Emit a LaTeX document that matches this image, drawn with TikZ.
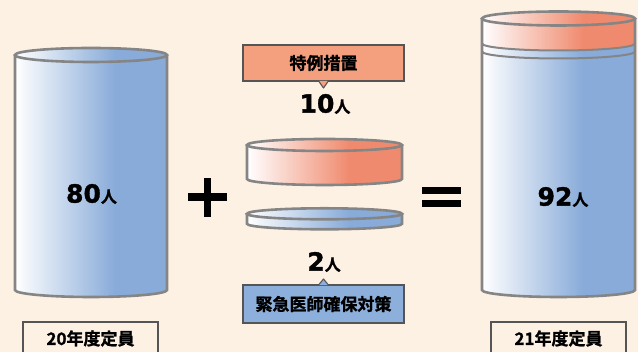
\documentclass[tikz,border=0pt]{standalone}
\usepackage{fontspec}
\usetikzlibrary{calc}
\newfontfamily\cjk{Noto Sans CJK JP Bold}[FakeBold=1.2]
\newfontfamily\numfont{DejaVu Sans Bold}[FakeBold=1.4]

\definecolor{paper}{HTML}{FDF1E4}
\definecolor{cylblue}{HTML}{88ABD9}
\definecolor{cylred}{HTML}{F08A6E}
\definecolor{rimgray}{HTML}{858585}
\definecolor{tagred}{HTML}{F4A07F}
\definecolor{tagblue}{HTML}{8DAFDC}
\definecolor{framegray}{HTML}{555555}

\pgfdeclarehorizontalshading{bluecyl}{100bp}{color(0bp)=(white); color(25bp)=(white); color(58bp)=(cylblue); color(100bp)=(cylblue)}
\pgfdeclarehorizontalshading{redcyl}{100bp}{color(0bp)=(white); color(25bp)=(white); color(58bp)=(cylred); color(100bp)=(cylred)}

% count with a smaller 人
\newcommand{\ninzu}[1]{{\numfont\fontsize{25}{25}\selectfont #1}{\cjk\fontsize{16}{16}\selectfont 人}}

\begin{document}
\begin{tikzpicture}[x=1pt,y=1pt]
\tikzstyle{rim}=[rimgray, line width=2.6pt]
\tikzstyle{tag}=[draw=framegray, line width=1.1pt, minimum width=161pt, inner sep=0pt, font=\cjk\fontsize{17}{17}\selectfont]
\tikzstyle{yearbox}=[draw=framegray, line width=1.1pt, minimum width=135pt, minimum height=33pt, inner sep=0pt, font=\cjk\fontsize{17}{17}\selectfont]
\fill [paper] (0,0) rectangle (638,352);
\useasboundingbox (0,0) rectangle (638,352);
\clip (0,0) rectangle (638,352);
% 20年度 cylinder
\shade [shading=bluecyl] (15,297) -- (15,62) arc (180:360:76pt and 7pt) -- (167,297) arc (0:180:76pt and 7pt) -- cycle;
\draw [rim] (15,297) -- (15,62) arc (180:360:76pt and 7pt) -- (167,297);
\draw [rim] (91,297) ellipse (76pt and 7pt);
\node (cnt20) at (91.5,158) {\ninzu{80}};
\node [yearbox] (nen20) at (90.5,13.5) {20年度定員};
% plus
\fill [black] (188,151.3) rectangle (226.7,158.7);
\fill [black] (204,135.3) rectangle (211,174);
% extra disc (red)
\shade [shading=redcyl] (247,207) -- (247,173) arc (180:360:77.5pt and 6pt) -- (402,207) arc (0:180:77.5pt and 6pt) -- cycle;
\draw [rim] (247,207) -- (247,173) arc (180:360:77.5pt and 6pt) -- (402,207);
\draw [rim] (324.5,207) ellipse (77.5pt and 6pt);
% extra disc (blue)
\shade [shading=bluecyl] (247,138.2) -- (247,128.2) arc (180:360:77.5pt and 5.5pt) -- (402,138.2) arc (0:180:77.5pt and 5.5pt) -- cycle;
\draw [rim] (247,138.2) -- (247,128.2) arc (180:360:77.5pt and 5.5pt) -- (402,138.2);
\draw [rim] (324.5,138.2) ellipse (77.5pt and 5.5pt);
% callouts
\node [tag, fill=tagred, minimum height=36pt] (tokurei) at (323.5,289) {特例措置};
\coordinate (tokureitip) at (323.5,264);
\fill [tagred] ($(tokurei.south)+(-4.5,0.6)$) -- (tokureitip) -- ($(tokurei.south)+(4.5,0.6)$) -- cycle;
\draw [framegray, line width=1.1pt, line join=round] ($(tokurei.south)+(-4.5,0)$) -- (tokureitip) -- ($(tokurei.south)+(4.5,0)$);
\node (cnt10) at (325,248) {\ninzu{10}};
\node [tag, fill=tagblue, minimum height=38pt] (kinkyu) at (323.5,48) {緊急医師確保対策};
\coordinate (kinkyutip) at (323.5,73);
\fill [tagblue] ($(kinkyu.north)+(-4.5,-0.6)$) -- (kinkyutip) -- ($(kinkyu.north)+(4.5,-0.6)$) -- cycle;
\draw [framegray, line width=1.1pt, line join=round] ($(kinkyu.north)+(-4.5,0)$) -- (kinkyutip) -- ($(kinkyu.north)+(4.5,0)$);
\node (cnt2) at (324,90) {\ninzu{2}};
% equals
\fill [black] (422,157.7) rectangle (461,164.7);
\fill [black] (422,144.7) rectangle (461,151.7);
% 21年度 cylinder, red disc sitting in the blue body
\shade [shading=bluecyl] (482,333.5) -- (482,62) arc (180:360:76.5pt and 7pt) -- (635,333.5) arc (0:180:76.5pt and 7pt) -- cycle;
\shade [shading=redcyl] (482,333.5) -- (482,308.5) arc (180:360:76.5pt and 7pt) -- (635,333.5) arc (0:180:76.5pt and 7pt) -- cycle;
\draw [rim] (482,333.5) -- (482,62) arc (180:360:76.5pt and 7pt) -- (635,333.5);
\draw [rim, line width=2pt] (482,300.5) arc (180:360:76.5pt and 7pt);
\draw [rim, line width=2pt] (482,308.5) arc (180:360:76.5pt and 7pt);
\draw [rim] (558.5,333.5) ellipse (76.5pt and 7pt);
\node (cnt21) at (563,155) {\ninzu{92}};
\node [yearbox] (nen21) at (558.5,13.5) {21年度定員};
\end{tikzpicture}
\end{document}
